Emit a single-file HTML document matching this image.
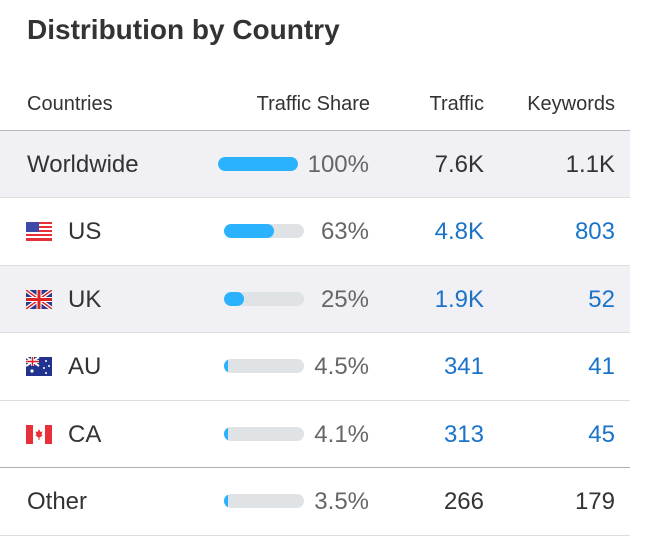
<!DOCTYPE html>
<html><head><style>
body{margin:0;width:650px;height:536px;background:#fff;font-family:"Liberation Sans",sans-serif;position:relative;overflow:hidden;color:#333}
.t{position:absolute;left:27px;top:14px;font-size:28px;font-weight:bold;color:#333}
.h{position:absolute;top:93px;font-size:20px;color:#333}
.row{position:absolute;left:0;width:630px;height:67px;border-top:1px solid #ddd}
.row span{position:absolute;top:20px;font-size:24px;color:#333}
.g{background:#f0f0f5}
.b{color:#1a73c8 !important}
.p{color:#666 !important}
.bar{position:absolute;top:26px;left:224px;width:80px;height:14px;border-radius:7px;background:#dfe3e6;overflow:hidden}
.bar i{position:absolute;left:0;top:0;bottom:0;background:#2ab2ff;border-radius:7px}
.f{position:absolute;left:26px;top:24px;width:26px;height:19px}
</style></head><body>
<div class="t">Distribution by Country</div>
<div class="h" style="left:27px">Countries</div>
<div class="h" style="right:280px">Traffic Share</div>
<div class="h" style="right:166px">Traffic</div>
<div class="h" style="right:35px">Keywords</div>

<div class="row g" style="top:130px;border-top:1px solid #b8b8c4">
<span style="left:27px">Worldwide</span>
<div class="bar" style="left:218px"><i style="width:80px"></i></div>
<span class="p" style="right:261px">100%</span><span style="right:146px">7.6K</span><span style="right:15px">1.1K</span></div>

<div class="row" style="top:197px">
<svg class="f" viewBox="0 0 26 19"><rect width="26" height="19" fill="#fff"/><g fill="#e8303a"><rect y="0" width="26" height="2"/><rect y="4" width="26" height="2"/><rect y="8" width="26" height="2"/><rect y="12" width="26" height="2"/><rect y="16" width="26" height="3"/></g><rect width="13" height="10" fill="#3c4aa8"/></svg>
<span style="left:68px">US</span>
<div class="bar"><i style="width:50px"></i></div>
<span class="p" style="right:261px">63%</span><span class="b" style="right:146px">4.8K</span><span class="b" style="right:15px">803</span></div>

<div class="row g" style="top:265px">
<svg class="f" viewBox="0 0 26 19"><rect width="26" height="19" fill="#2b3a8c"/><path d="M0 0L26 19M26 0L0 19" stroke="#fff" stroke-width="4"/><path d="M0 0L26 19M26 0L0 19" stroke="#d22" stroke-width="1.5"/><path d="M13 0V19M0 9.5H26" stroke="#fff" stroke-width="5"/><path d="M13 0V19M0 9.5H26" stroke="#d22" stroke-width="3"/></svg>
<span style="left:68px">UK</span>
<div class="bar"><i style="width:20px"></i></div>
<span class="p" style="right:261px">25%</span><span class="b" style="right:146px">1.9K</span><span class="b" style="right:15px">52</span></div>

<div class="row" style="top:332px">
<svg class="f" viewBox="0 0 26 19"><rect width="26" height="19" fill="#22338f"/><rect width="13" height="9" fill="#2b3a8c"/><path d="M0 0L13 9M13 0L0 9" stroke="#fff" stroke-width="2"/><path d="M6.5 0V9M0 4.5H13" stroke="#fff" stroke-width="3"/><path d="M6.5 0V9M0 4.5H13" stroke="#d22" stroke-width="1.5"/><g fill="#fff"><circle cx="6" cy="14" r="1.6"/><circle cx="20" cy="4" r="1"/><circle cx="23" cy="9" r="1"/><circle cx="18" cy="11" r="1"/><circle cx="20" cy="16" r="1"/></g></svg>
<span style="left:68px">AU</span>
<div class="bar"><i style="width:4px"></i></div>
<span class="p" style="right:261px">4.5%</span><span class="b" style="right:146px">341</span><span class="b" style="right:15px">41</span></div>

<div class="row" style="top:400px">
<svg class="f" viewBox="0 0 26 19"><rect width="26" height="19" fill="#fff"/><rect width="7" height="19" fill="#e8303a"/><rect x="19" width="7" height="19" fill="#e8303a"/><path d="M13 4L14.5 7L16.5 6.5L15.5 10L17 10L13 13L9 10L10.5 10L9.5 6.5L11.5 7Z" fill="#e8303a"/><rect x="12.5" y="12" width="1" height="3" fill="#e8303a"/></svg>
<span style="left:68px">CA</span>
<div class="bar"><i style="width:4px"></i></div>
<span class="p" style="right:261px">4.1%</span><span class="b" style="right:146px">313</span><span class="b" style="right:15px">45</span></div>

<div class="row" style="top:467px;border-top:1px solid #aab0b0;border-bottom:1px solid #ddd">
<span style="left:27px">Other</span>
<div class="bar"><i style="width:4px"></i></div>
<span class="p" style="right:261px">3.5%</span><span style="right:146px">266</span><span style="right:15px">179</span></div>
</body></html>
